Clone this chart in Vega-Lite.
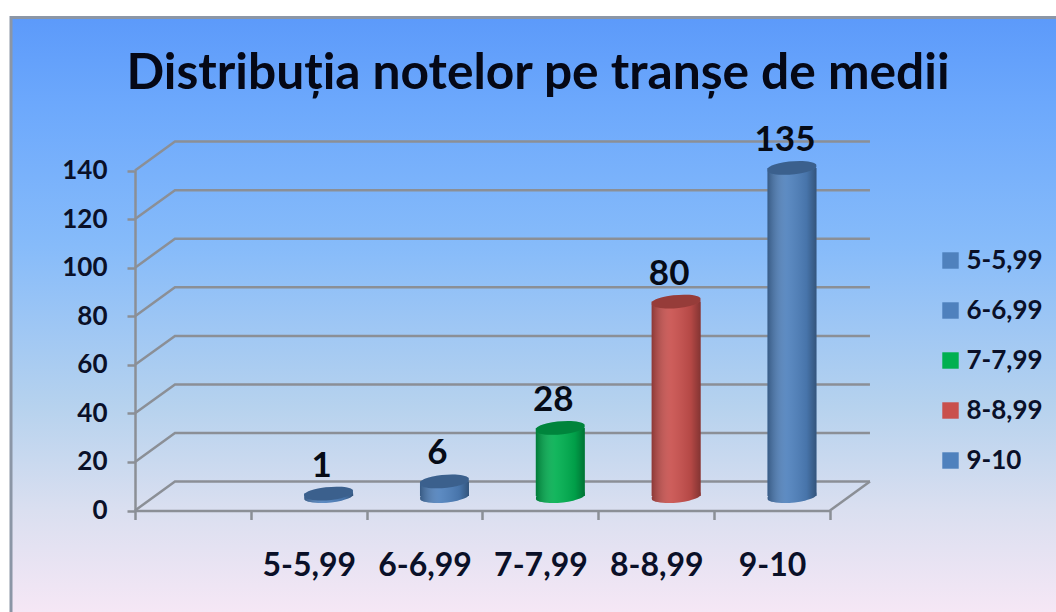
{
"$schema":"https://vega.github.io/schema/vega-lite/v6.json",
"width":1056,"height":612,"padding":0,"autosize":{"type":"none"},"background":"white",
"title":{"text":"Distribuția notelor pe tranșe de medii","anchor":"middle","dx":10,"dy":104,"font":"Lato","fontWeight":"bold","fontSize":49.7,"color":"#050816","frame":"group"},
"config":{"view":{"stroke":null},"font":"Lato",
"legend":{"orient":"none","legendX":937.5,"legendY":247.5,"title":null,"symbolType":"square","symbolSize":270,"symbolStrokeWidth":0,"labelFont":"Lato","labelFontWeight":"bold","labelFontSize":26,"labelColor":"#0a1028","rowPadding":24,"labelOffset":3}},
"datasets":{
"panel":[{"x0":0,"x1":1,"y0":0,"y1":1}],
"bars":[{"cat":"5-5,99","value":1},{"cat":"6-6,99","value":6},{"cat":"7-7,99","value":28},{"cat":"8-8,99","value":80},{"cat":"9-10","value":135}],
"grid":[
{"s":"0","x":0,"y":0},{"s":"0","x":0.345,"y":11.9},{"s":"0","x":6.345,"y":11.9},
{"s":"20","x":0,"y":20},{"s":"20","x":0.345,"y":31.9},{"s":"20","x":6.345,"y":31.9},
{"s":"40","x":0,"y":40},{"s":"40","x":0.345,"y":51.9},{"s":"40","x":6.345,"y":51.9},
{"s":"60","x":0,"y":60},{"s":"60","x":0.345,"y":71.9},{"s":"60","x":6.345,"y":71.9},
{"s":"80","x":0,"y":80},{"s":"80","x":0.345,"y":91.9},{"s":"80","x":6.345,"y":91.9},
{"s":"100","x":0,"y":100},{"s":"100","x":0.345,"y":111.9},{"s":"100","x":6.345,"y":111.9},
{"s":"120","x":0,"y":120},{"s":"120","x":0.345,"y":131.9},{"s":"120","x":6.345,"y":131.9},
{"s":"140","x":0,"y":140},{"s":"140","x":0.345,"y":151.9},{"s":"140","x":6.345,"y":151.9},
{"s":"floor","x":6,"y":0},{"s":"floor","x":6.345,"y":11.9}
]},
"resolve":{"scale":{"x":"independent","y":"independent"}},
"layer":[
{"data":{"name":"panel"},
 "mark":{"type":"rect","stroke":"#8b96a6","strokeWidth":3,"fill":{"gradient":"linear","x1":0,"y1":0,"x2":0,"y2":1,"stops":[{"offset":0,"color":"#5c9afa"},{"offset":0.14,"color":"#6ca8fc"},{"offset":0.375,"color":"#86bbfa"},{"offset":0.64,"color":"#b6d2ee"},{"offset":0.81,"color":"#dadff0"},{"offset":1,"color":"#f9e8f6"}]}},
 "encoding":{
  "x":{"field":"x0","type":"quantitative","scale":{"domain":[0,1],"range":[11,1075]},"axis":null},"x2":{"field":"x1"},
  "y":{"field":"y0","type":"quantitative","scale":{"domain":[0,1],"range":[625,17.5]},"axis":null},"y2":{"field":"y1"}}},
{"data":{"name":"grid"},
 "mark":{"type":"line","color":"#8b8f96","strokeWidth":2.5,"interpolate":"linear"},
 "encoding":{
  "x":{"field":"x","type":"quantitative","scale":{"domain":[0,6],"range":[135,830],"nice":false,"zero":false},"axis":null},
  "y":{"field":"y","type":"quantitative","scale":{"domain":[0,140],"range":[510.5,170.5],"nice":false},
   "axis":{"title":null,"orient":"left","offset":-135,"zindex":1,"values":[0,20,40,60,80,100,120,140],"grid":false,"domainColor":"#8b8f96","domainWidth":2.5,"tickColor":"#8b8f96","tickWidth":2.5,"tickSize":8,"labelPadding":20,"labelFont":"Lato","labelFontWeight":"bold","labelFontSize":26,"labelColor":"#0a1028"}},
  "detail":{"field":"s"}}},
{"data":{"name":"bars"},
 "mark":{"type":"point","opacity":0},
 "encoding":{
  "x":{"field":"cat","type":"nominal","sort":null,"scale":{"type":"band","domain":[" ","5-5,99","6-6,99","7-7,99","8-8,99","9-10"],"range":[135,830],"paddingInner":0,"paddingOuter":0},
   "axis":{"title":null,"orient":"bottom","offset":-101.5,"zindex":1,"tickBand":"extent","labelAngle":0,"grid":false,"domainColor":"#8b8f96","domainWidth":2.5,"tickColor":"#8b8f96","tickWidth":2.5,"tickSize":9,"labelPadding":31,"labelFont":"Lato","labelFontWeight":"bold","labelFontSize":32,"labelColor":"#0a1028"}},
  "y":{"field":"value","type":"quantitative","scale":{"domain":[0,140],"range":[496,155.8]},"axis":null}}},
{"data":{"name":"bars"},
 "mark":{"type":"point","filled":true,"opacity":1,"size":2401,"shape":"M-0.99,0.08 A1,0.24 -5 1 1 0.99,-0.08 A1,0.24 -5 1 1 -0.99,0.08 Z"},
 "encoding":{
  "x":{"field":"cat","type":"nominal","scale":{"type":"band","domain":[" ","5-5,99","6-6,99","7-7,99","8-8,99","9-10"],"range":[154.9,849.9],"paddingInner":0,"paddingOuter":0},"axis":null},
  "y":{"datum":0,"type":"quantitative","scale":{"domain":[0,140],"range":[496,155.8]},"axis":null},
  "color":{"field":"cat","type":"nominal","scale":{"domain":["5-5,99","6-6,99","7-7,99","8-8,99","9-10"],"range":["#4f81bd","#4f81bd","#00b050","#c9504d","#4f81bd"]}}}},
{"data":{"name":"bars"},
 "mark":{"type":"point","filled":true,"opacity":1,"size":2401,"shape":"M-0.99,0.08 A1,0.24 -5 1 1 0.99,-0.08 A1,0.24 -5 1 1 -0.99,0.08 Z","fill":{"gradient":"linear","x1":0,"y1":0,"x2":1,"y2":0,"stops":[{"offset":0,"color":"rgba(0,0,0,0.3)"},{"offset":0.4,"color":"rgba(255,255,255,0.08)"},{"offset":0.8,"color":"rgba(0,0,0,0.1)"},{"offset":1,"color":"rgba(0,0,0,0.35)"}]}},
 "encoding":{
  "x":{"field":"cat","type":"nominal","scale":{"type":"band","domain":[" ","5-5,99","6-6,99","7-7,99","8-8,99","9-10"],"range":[154.9,849.9],"paddingInner":0,"paddingOuter":0},"axis":null},
  "y":{"datum":0,"type":"quantitative","scale":{"domain":[0,140],"range":[496,155.8]},"axis":null}}},
{"data":{"name":"bars"},
 "mark":{"type":"bar","size":49},
 "encoding":{
  "x":{"field":"cat","type":"nominal","scale":{"type":"band","domain":[" ","5-5,99","6-6,99","7-7,99","8-8,99","9-10"],"range":[154.9,849.9],"paddingInner":0,"paddingOuter":0},"axis":null},
  "y":{"field":"value","type":"quantitative","stack":null,"scale":{"domain":[0,140],"range":[496,155.8]},"axis":null},
  "y2":{"datum":0},
  "color":{"field":"cat","type":"nominal","scale":{"domain":["5-5,99","6-6,99","7-7,99","8-8,99","9-10"],"range":["#4f81bd","#4f81bd","#00b050","#c9504d","#4f81bd"]}}}},
{"data":{"name":"bars"},
 "mark":{"type":"bar","size":49,"fill":{"gradient":"linear","x1":0,"y1":0,"x2":1,"y2":0,"stops":[{"offset":0,"color":"rgba(0,0,0,0.3)"},{"offset":0.4,"color":"rgba(255,255,255,0.08)"},{"offset":0.8,"color":"rgba(0,0,0,0.1)"},{"offset":1,"color":"rgba(0,0,0,0.35)"}]}},
 "encoding":{
  "x":{"field":"cat","type":"nominal","scale":{"type":"band","domain":[" ","5-5,99","6-6,99","7-7,99","8-8,99","9-10"],"range":[154.9,849.9],"paddingInner":0,"paddingOuter":0},"axis":null},
  "y":{"field":"value","type":"quantitative","stack":null,"scale":{"domain":[0,140],"range":[496,155.8]},"axis":null},
  "y2":{"datum":0}}},
{"data":{"name":"bars"},
 "mark":{"type":"point","filled":true,"opacity":1,"size":2401,"shape":"M-0.99,0.08 A1,0.24 -5 1 1 0.99,-0.08 A1,0.24 -5 1 1 -0.99,0.08 Z"},
 "encoding":{
  "x":{"field":"cat","type":"nominal","scale":{"type":"band","domain":[" ","5-5,99","6-6,99","7-7,99","8-8,99","9-10"],"range":[154.9,849.9],"paddingInner":0,"paddingOuter":0},"axis":null},
  "y":{"field":"value","type":"quantitative","scale":{"domain":[0,140],"range":[496,155.8]},"axis":null},
  "color":{"field":"cat","type":"nominal","scale":{"domain":["5-5,99","6-6,99","7-7,99","8-8,99","9-10"],"range":["#4f81bd","#4f81bd","#00b050","#c9504d","#4f81bd"]}}}},
{"data":{"name":"bars"},
 "mark":{"type":"point","filled":true,"opacity":0.25,"color":"#000000","size":2401,"shape":"M-0.99,0.08 A1,0.24 -5 1 1 0.99,-0.08 A1,0.24 -5 1 1 -0.99,0.08 Z"},
 "encoding":{
  "x":{"field":"cat","type":"nominal","scale":{"type":"band","domain":[" ","5-5,99","6-6,99","7-7,99","8-8,99","9-10"],"range":[154.9,849.9],"paddingInner":0,"paddingOuter":0},"axis":null},
  "y":{"field":"value","type":"quantitative","scale":{"domain":[0,140],"range":[496,155.8]},"axis":null}}},
{"data":{"name":"bars"},
 "mark":{"type":"text","font":"Lato","fontWeight":"bold","fontSize":35,"color":"#060b16","baseline":"middle","align":"center","dx":-7,"dy":-28},
 "encoding":{
  "x":{"field":"cat","type":"nominal","scale":{"type":"band","domain":[" ","5-5,99","6-6,99","7-7,99","8-8,99","9-10"],"range":[154.9,849.9],"paddingInner":0,"paddingOuter":0},"axis":null},
  "y":{"field":"value","type":"quantitative","scale":{"domain":[0,140],"range":[496,155.8]},"axis":null},
  "text":{"field":"value","type":"quantitative"}}}
]}
